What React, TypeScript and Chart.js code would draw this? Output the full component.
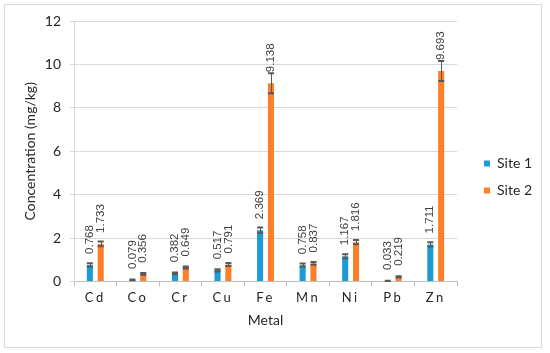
import React, { useEffect, useRef } from 'react';
import { Chart, registerables } from 'chart.js';

Chart.register(...registerables);

const metals = ['Cd', 'Co', 'Cr', 'Cu', 'Fe', 'Mn', 'Ni', 'Pb', 'Zn'];
const site1 = [0.768, 0.079, 0.382, 0.517, 2.369, 0.758, 1.167, 0.033, 1.711];
const site2 = [1.733, 0.356, 0.649, 0.791, 9.138, 0.837, 1.816, 0.219, 9.693];
const site1Err = [0.08, 0.02, 0.04, 0.05, 0.12, 0.07, 0.09, 0.01, 0.1];
const site2Err = [0.11, 0.04, 0.05, 0.07, 0.46, 0.06, 0.1, 0.03, 0.46];
const seriesNames = ['Site 1', 'Site 2'];
const seriesColors = ['#1c9bd7', '#fd7f29'];

const FONT = 'Lato, "Liberation Sans", sans-serif';

const framePlugin = {
  id: 'frame',
  beforeDraw(chart: any) {
    const ctx = chart.ctx;
    ctx.save();
    ctx.fillStyle = '#ffffff';
    ctx.fillRect(0, 0, chart.width, chart.height);
    ctx.strokeStyle = '#d9d9d9';
    ctx.lineWidth = 1;
    ctx.strokeRect(4.5, 4.5, 537, 343);
    ctx.restore();
    const xs = chart.scales.x;
    if (xs && !xs._spaced) {
      const orig = xs.drawLabels;
      xs.drawLabels = function (area: any) {
        const c = this.ctx;
        c.save();
        c.letterSpacing = '2.5px';
        orig.call(this, area);
        c.restore();
      };
      xs._spaced = true;
    }
  },
};

const errorAndLabelPlugin = {
  id: 'errLabels',
  afterDatasetsDraw(chart: any) {
    const ctx = chart.ctx;
    const ys = chart.scales.y;
    chart.data.datasets.forEach((ds: any, di: number) => {
      const meta = chart.getDatasetMeta(di);
      meta.data.forEach((bar: any, i: number) => {
        const v = ds.data[i];
        const e = ds.errors[i];
        const top = ys.getPixelForValue(v + e);
        const bot = ys.getPixelForValue(v - e);
        const x = Math.round(bar.x) + 0.5;
        const half = bar.width / 2;
        ctx.save();
        ctx.strokeStyle = '#595959';
        ctx.lineWidth = 1;
        ctx.beginPath();
        ctx.moveTo(x, top);
        ctx.lineTo(x, bot);
        ctx.stroke();
        ctx.lineWidth = 2;
        ctx.beginPath();
        ctx.moveTo(bar.x - half, top);
        ctx.lineTo(bar.x + half, top);
        ctx.moveTo(bar.x - half, bot);
        ctx.lineTo(bar.x + half, bot);
        ctx.stroke();
        ctx.restore();
      });
    });
    chart.data.datasets.forEach((ds: any, di: number) => {
      const meta = chart.getDatasetMeta(di);
      meta.data.forEach((bar: any, i: number) => {
        const v = ds.data[i];
        ctx.save();
        ctx.translate(bar.x, bar.y - 11);
        ctx.rotate(-Math.PI / 2);
        ctx.font = '11.5px "Liberation Sans", Arial, sans-serif';
        ctx.fillStyle = '#404040';
        ctx.textAlign = 'left';
        ctx.textBaseline = 'middle';
        ctx.fillText(v.toFixed(3), 0, 0);
        ctx.restore();
      });
    });
  },
};

export default function App() {
  const ref = useRef<HTMLCanvasElement>(null);
  useEffect(() => {
    if (!ref.current) return;
    const chart = new Chart(ref.current, {
      type: 'bar',
      data: {
        labels: metals,
        datasets: [
          {
            label: seriesNames[0],
            data: site1,
            errors: site1Err,
            backgroundColor: seriesColors[0],
            categoryPercentage: 0.51,
            barPercentage: 0.56,
          } as any,
          {
            label: seriesNames[1],
            data: site2,
            errors: site2Err,
            backgroundColor: seriesColors[1],
            categoryPercentage: 0.51,
            barPercentage: 0.56,
          } as any,
        ],
      },
      options: {
        responsive: false,
        animation: false,
        layout: { padding: { left: 18, top: 21, right: 8, bottom: 20 } },
        plugins: {
          tooltip: { enabled: false },
          legend: {
            position: 'right',
            align: 'center',
            labels: {
              boxWidth: 6,
              boxHeight: 6,
              padding: 13,
              color: '#262626',
              font: { family: FONT, size: 14 },
            },
          },
        },
        scales: {
          x: {
            grid: {
              display: true,
              drawOnChartArea: false,
              drawTicks: true,
              tickLength: 5,
              color: '#bfbfbf',
            },
            border: { display: true, color: '#bfbfbf' },
            ticks: {
              color: '#262626',
              padding: 3,
              font: { family: FONT, size: 13 },
              maxRotation: 0,
            },
            title: {
              display: true,
              text: 'Metal',
              color: '#262626',
              font: { family: FONT, size: 14 },
              padding: 4,
            },
          },
          y: {
            min: 0,
            max: 12,
            ticks: {
              stepSize: 2,
              color: '#262626',
              padding: 9,
              font: { family: FONT, size: 14 },
            },
            grid: { color: '#d9d9d9', tickLength: 4 },
            border: { color: '#d9d9d9' },
            title: {
              display: true,
              text: 'Concentration (mg/kg)',
              color: '#262626',
              font: { family: FONT, size: 14 },
              padding: 4,
            },
            afterFit(s: any) {
              s.width = 56;
            },
          },
          y2: {
            type: 'linear',
            position: 'right',
            display: true,
            grid: { display: false, drawTicks: false },
            border: { display: false },
            ticks: { display: false },
            afterFit(s: any) {
              s.width = 14;
            },
          },
        },
      } as any,
      plugins: [framePlugin, errorAndLabelPlugin],
    });
    return () => chart.destroy();
  }, []);
  return (
    <div style={{ position: 'absolute', left: 0, top: 0, width: 550, height: 353 }}>
      <canvas ref={ref} width={550} height={353} style={{ display: 'block' }} />
    </div>
  );
}
